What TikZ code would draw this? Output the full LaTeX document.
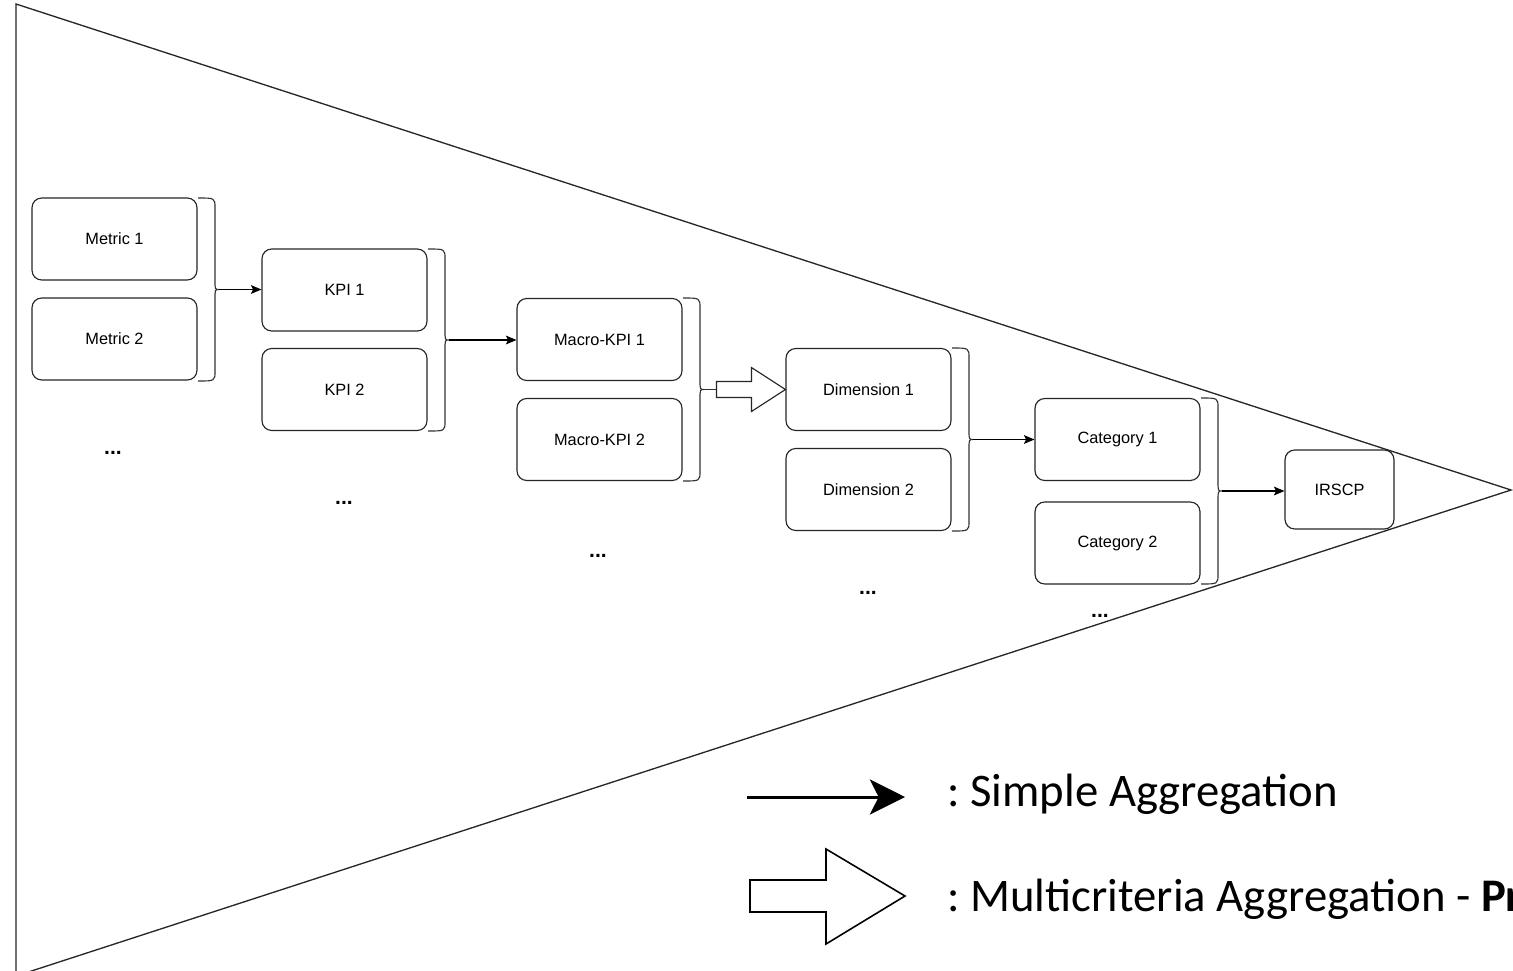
\documentclass[tikz,border=0pt]{standalone}
\usepackage{fontspec}
\setmainfont{Liberation Sans}
\newfontfamily\legendfont{Carlito}
\usetikzlibrary{calc,arrows.meta}

\tikzset{
  box/.style={draw=black!85, line width=0.65pt, rounded corners=5.5pt,
    minimum width=3.3cm, minimum height=1.64cm, inner sep=0pt,
    font=\fontsize{9.3}{11}\selectfont},
  more/.style={anchor=base, inner sep=0pt, font=\fontsize{12}{14}\selectfont\bfseries},
  brace/.style={draw=black!80, line width=0.65pt},
  agg/.style={draw=black, line width=0.65pt, -{Stealth[length=6pt,width=5pt,inset=1.2pt]}},
  legend/.style={anchor=base west, inner sep=0pt, font=\legendfont\frenchspacing\fontsize{26.6}{30}\selectfont}
}

% curly bracket closing a group of boxes, tip named #1
\newcommand{\grpbrace}[4]{%
  \draw[brace] (#2,#3) .. controls ({#2+17},#3) .. ({#2+17},{#3+10})
    -- ({#2+17},{(#3+#4)/2-10}) .. controls ({#2+17},{(#3+#4)/2}) .. ({#2+21},{(#3+#4)/2})
    .. controls ({#2+17},{(#3+#4)/2}) .. ({#2+17},{(#3+#4)/2+10})
    -- ({#2+17},{#4-10}) .. controls ({#2+17},#4) .. (#2,#4);
  \coordinate (#1) at ({#2+21},{(#3+#4)/2});}

\begin{document}
\begin{tikzpicture}[x=0.02cm, y=-0.02cm]
  \useasboundingbox (0,0) rectangle (1513,970);
  \clip (0,0) rectangle (1513,970);
  \fill[white] (0,0) rectangle (1513,970);

  % funnel
  \draw[black!85, line width=0.75pt] (16,4) -- (1511,490) -- (16,976) -- cycle;

  \node[box] (m1) at (114.5, 239) {Metric 1};
  \node[box] (m2) at (114.5, 339) {Metric 2};
  \node[more] (m3) at (113, 454) {...};

  \node[box] (k1) at (344.5, 290) {KPI 1};
  \node[box] (k2) at (344.5, 389.5) {KPI 2};
  \node[more] (k3) at (344, 504) {...};

  \node[box] (mk1) at (599.5, 339.5) {Macro-KPI 1};
  \node[box] (mk2) at (599.5, 439.5) {Macro-KPI 2};
  \node[more] (mk3) at (598, 557) {...};

  \node[box] (d1) at (868.5, 389.5) {Dimension 1};
  \node[box] (d2) at (868.5, 489.5) {Dimension 2};
  \node[more] (d3) at (868, 594) {...};

  \node[box] (c1) at (1117.5, 439.5) {Category 1};
  \node[box] (c2) at (1117.5, 543) {Category 2};
  \node[more] (c3) at (1100, 617) {...};

  \node[box, minimum width=2.18cm, minimum height=1.58cm] (ir) at (1339.5, 489.5) {IRSCP};

  \grpbrace{b1}{198}{198}{381}
  \grpbrace{b2}{428}{249}{431}
  \grpbrace{b3}{683}{298}{481}
  \grpbrace{b4}{952}{348}{531}
  \grpbrace{b5}{1201}{398}{584}

  \draw[agg] (b1) -- (b1 -| k1.west);
  \draw[agg] (b2) -- (b2 -| mk1.west);
  \draw[agg] (b4) -- (b4 -| c1.west);
  \draw[agg] (b5) -- (b5 -| ir.west);

  % multicriteria step
  \draw[brace] (b3) -- ($(d1.west)+(-69,0)$);
  \draw[draw=black!85, fill=white, line width=0.65pt]
    ($(d1.west)+(-69,-8)$) -- ++(35,0) -- ++(0,-14) -- (d1.west)
    -- ($(d1.west)+(-34,22)$) -- ++(0,-14) -- ++(-35,0) -- cycle;

  % legend
  \draw[line width=1.7pt, -{Stealth[length=20pt,width=20pt,inset=5pt]}] (747,797) -- (905,797);
  \node[legend] (l1) at (947,806) {: Simple Aggregation};
  \draw[black, line width=0.9pt, fill=white]
    (750,880) -- (826,880) -- (826,849) -- (905,896) -- (826,944) -- (826,912) -- (750,912) -- cycle;
  \node[legend] (l2) at (947,911) {: Multicriteria Aggregation - \textbf{Pr}};
\end{tikzpicture}
\end{document}
